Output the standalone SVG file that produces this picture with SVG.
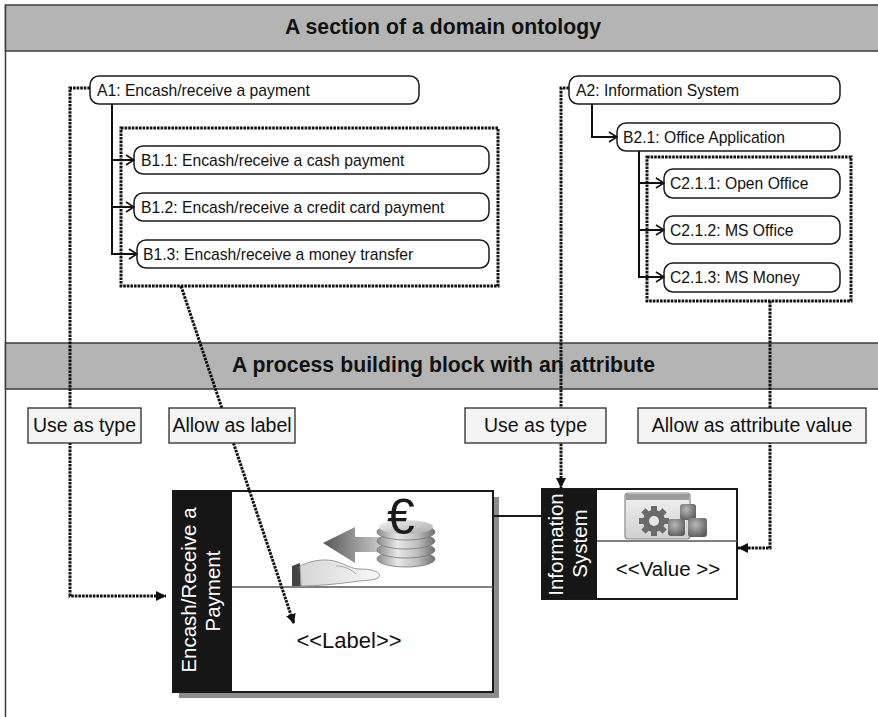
<svg xmlns="http://www.w3.org/2000/svg" width="878" height="717" viewBox="0 0 878 717">
  <defs>
    <style>
      .band { fill: #b3b4b3; stroke: #3c3c3c; stroke-width: 1.5; }
      .title { font-family: "Liberation Sans", Arial, sans-serif; font-weight: bold; font-size: 21.2px; fill: #111; text-anchor: middle; }
      .node rect { fill: #fff; stroke: #1a1a1a; stroke-width: 1.5; }
      .node text { font-family: "Liberation Sans", Arial, sans-serif; font-size: 15.7px; fill: #111; }
      .group { fill: none; stroke: #111; stroke-width: 3; stroke-dasharray: 2.6 1; }
      .tree { fill: none; stroke: #111; stroke-width: 2; marker-end: url(#open); }
      .dots { fill: none; stroke: #111; stroke-width: 3; stroke-dasharray: 2.6 1; }
      .dots.arrow { marker-end: url(#solid); }
      .tag rect { fill: #f4f4f4; stroke: #2a2a2a; stroke-width: 1.3; }
      .tag text { font-family: "Liberation Sans", Arial, sans-serif; font-size: 19.5px; fill: #111; text-anchor: middle; }
      .side { font-family: "Liberation Sans", Arial, sans-serif; font-size: 20.5px; fill: #fff; text-anchor: middle; }
      .slot { font-family: "Liberation Sans", Arial, sans-serif; fill: #111; text-anchor: middle; }
    </style>
    <marker id="open" viewBox="0 0 10 12" refX="9" refY="6" markerWidth="10" markerHeight="12" markerUnits="userSpaceOnUse" orient="auto">
      <path d="M1,1 L9,6 L1,11" fill="none" stroke="#111" stroke-width="1.6"/>
    </marker>
    <marker id="solid" viewBox="0 0 10 10" refX="10" refY="5" markerWidth="10" markerHeight="10" markerUnits="userSpaceOnUse" orient="auto">
      <path d="M0,0 L10,5 L0,10 z" fill="#111"/>
    </marker>
    <linearGradient id="coin" x1="0" y1="0" x2="1" y2="0">
      <stop offset="0" stop-color="#8a8a8a"/>
      <stop offset="0.35" stop-color="#e8e8e8"/>
      <stop offset="0.7" stop-color="#bdbdbd"/>
      <stop offset="1" stop-color="#6e6e6e"/>
    </linearGradient>
    <linearGradient id="coinTop" x1="0" y1="0" x2="1" y2="1">
      <stop offset="0" stop-color="#f4f4f4"/>
      <stop offset="1" stop-color="#a8a8a8"/>
    </linearGradient>
    <linearGradient id="arrowFill" x1="0" y1="0" x2="1" y2="0">
      <stop offset="0" stop-color="#555"/>
      <stop offset="1" stop-color="#c8c8c8"/>
    </linearGradient>
    <linearGradient id="handFill" x1="0" y1="0" x2="1" y2="0">
      <stop offset="0" stop-color="#d6d6d6"/>
      <stop offset="1" stop-color="#f8f8f8"/>
    </linearGradient>
    <linearGradient id="win" x1="0" y1="0" x2="0" y2="1">
      <stop offset="0" stop-color="#f2f2f2"/>
      <stop offset="1" stop-color="#d0d0d0"/>
    </linearGradient>
    <radialGradient id="cube" cx="0.4" cy="0.35" r="0.7">
      <stop offset="0" stop-color="#b8b8b8"/>
      <stop offset="1" stop-color="#5c5c5c"/>
    </radialGradient>
  </defs>

  <rect width="878" height="717" fill="#fff"/>

  <!-- frame and section bands -->
  <line x1="5.5" y1="5" x2="5.5" y2="717" stroke="#3c3c3c" stroke-width="1.5"/>
  <g id="band-ontology">
    <rect class="band" x="5.5" y="5" width="875" height="46"/>
    <text class="title" x="443" y="34" textLength="316">A section of a domain ontology</text>
  </g>
  <g id="band-process">
    <rect class="band" x="5.5" y="343" width="875" height="46"/>
    <text class="title" x="443.5" y="372" textLength="423">A process building block with an attribute</text>
  </g>

  <!-- ontology: payment branch -->
  <g id="A1" class="node">
    <rect x="90" y="76" width="329" height="28" rx="9"/>
    <text x="97" y="96">A1: Encash/receive a payment</text>
  </g>
  <g id="B1-group">
    <rect class="group" x="121" y="128" width="377" height="158"/>
  </g>
  <g id="B1.1" class="node">
    <rect x="134" y="146" width="355" height="28" rx="9"/>
    <text x="141" y="166">B1.1: Encash/receive a cash payment</text>
  </g>
  <g id="B1.2" class="node">
    <rect x="134" y="193" width="355" height="28" rx="9"/>
    <text x="141" y="213">B1.2: Encash/receive a credit card payment</text>
  </g>
  <g id="B1.3" class="node">
    <rect x="137" y="240" width="352" height="28" rx="9"/>
    <text x="143" y="260">B1.3: Encash/receive a money transfer</text>
  </g>

  <!-- ontology: information system branch -->
  <g id="A2" class="node">
    <rect x="569" y="76" width="271" height="28" rx="9"/>
    <text x="576" y="96">A2: Information System</text>
  </g>
  <g id="B2.1" class="node">
    <rect x="617" y="123" width="223" height="28" rx="9"/>
    <text x="623" y="143">B2.1: Office Application</text>
  </g>
  <g id="C2-group">
    <rect class="group" x="647" y="157" width="204" height="144"/>
  </g>
  <g id="C2.1.1" class="node">
    <rect x="664" y="169" width="176" height="29" rx="9"/>
    <text x="670" y="189">C2.1.1: Open Office</text>
  </g>
  <g id="C2.1.2" class="node">
    <rect x="664" y="216" width="176" height="28" rx="9"/>
    <text x="670" y="236">C2.1.2: MS Office</text>
  </g>
  <g id="C2.1.3" class="node">
    <rect x="664" y="263" width="176" height="29" rx="9"/>
    <text x="670" y="283">C2.1.3: MS Money</text>
  </g>

  <!-- process building block: Encash/Receive a Payment -->
  <g id="encash-block">
    <rect x="179" y="497" width="320" height="201" fill="#8c8c8c"/>
    <rect x="173" y="491" width="320" height="201" fill="#fff" stroke="#1a1a1a" stroke-width="2"/>
    <rect x="173" y="491" width="59" height="201" fill="#161616"/>
    <line x1="232" y1="587" x2="493" y2="587" stroke="#555" stroke-width="1.5"/>
    <text class="side" transform="translate(196,590) rotate(-90)">Encash/Receive a</text>
    <text class="side" transform="translate(220,591) rotate(-90)">Payment</text>
    <!-- icon: hand receiving euro coins -->
    <g id="euro-icon">
      <path d="M292,566 L300,563 L301,586 L292,586 Z" fill="#444"/>
      <path d="M300,566 C312,560 326,558 338,562 C346,565 352,569 360,569 C372,569 382,572 379,577 C376,581 362,580 352,582 C336,584 318,586 301,586 Z" fill="url(#handFill)" stroke="#9a9a9a" stroke-width="1"/>
      <path d="M336,566 C345,566 352,570 356,574" fill="none" stroke="#aaa" stroke-width="1"/>
      <path d="M323,543 L355,527 L355,537 L380,537 L380,552 L355,552 L355,563 Z" fill="url(#arrowFill)"/>
      <ellipse cx="406" cy="559" rx="29" ry="8" fill="url(#coin)" stroke="#777" stroke-width="0.8"/>
      <ellipse cx="406" cy="550" rx="29" ry="8" fill="url(#coin)" stroke="#777" stroke-width="0.8"/>
      <ellipse cx="406" cy="541" rx="29" ry="8" fill="url(#coin)" stroke="#777" stroke-width="0.8"/>
      <ellipse cx="406" cy="532" rx="29" ry="8" fill="url(#coin)" stroke="#777" stroke-width="0.8"/>
      <ellipse cx="406" cy="527" rx="27" ry="7" fill="url(#coinTop)"/>
      <text x="401" y="534" font-family="Liberation Sans, Arial, sans-serif" font-size="50" fill="#1a1a1a" text-anchor="middle">€</text>
    </g>
    <text class="slot" x="349" y="648" font-size="22">&lt;&lt;Label&gt;&gt;</text>
  </g>

  <!-- process building block: Information System attribute -->
  <g id="is-block">
    <rect x="542" y="489" width="195" height="110" fill="#fff" stroke="#1a1a1a" stroke-width="2"/>
    <rect x="542" y="489" width="55" height="110" fill="#161616"/>
    <line x1="597" y1="541" x2="737" y2="541" stroke="#555" stroke-width="1.5"/>
    <text class="side" transform="translate(563,544.5) rotate(-90)">Information</text>
    <text class="side" transform="translate(587,543.5) rotate(-90)">System</text>
    <!-- icon: application window with gear and cubes -->
    <g id="app-icon">
      <rect x="625" y="493" width="65" height="46" rx="3" fill="url(#win)" stroke="#8a8a8a" stroke-width="1.2"/>
      <rect x="626" y="494" width="63" height="6" fill="#9c9c9c"/>
      <g transform="translate(654,521)">
        <circle r="11" fill="#6a6a6a"/>
        <g fill="#6a6a6a">
          <rect x="-3" y="-15" width="6" height="6"/>
          <rect x="-3" y="9" width="6" height="6"/>
          <rect x="-15" y="-3" width="6" height="6"/>
          <rect x="9" y="-3" width="6" height="6"/>
          <rect x="-3" y="-15" width="6" height="6" transform="rotate(45)"/>
          <rect x="-3" y="9" width="6" height="6" transform="rotate(45)"/>
          <rect x="-15" y="-3" width="6" height="6" transform="rotate(45)"/>
          <rect x="9" y="-3" width="6" height="6" transform="rotate(45)"/>
        </g>
        <circle r="5" fill="#e6e6e6"/>
      </g>
      <rect x="680" y="504" width="16" height="16" rx="3" fill="url(#cube)"/>
      <rect x="668" y="519" width="17" height="17" rx="3" fill="url(#cube)"/>
      <rect x="688" y="518" width="19" height="19" rx="3" fill="url(#cube)"/>
    </g>
    <text class="slot" x="668" y="576" font-size="20.5">&lt;&lt;Value &gt;&gt;</text>
  </g>

  <!-- connectors -->
  <g id="connectors">
    <!-- ontology hierarchy -->
    <path class="tree" d="M112,104 V160 H134"/>
    <path class="tree" d="M112,160 V207 H134"/>
    <path class="tree" d="M112,207 V254 H137"/>
    <path class="tree" d="M592,104 V137 H617"/>
    <path class="tree" d="M639,151 V183 H664"/>
    <path class="tree" d="M639,183 V230 H664"/>
    <path class="tree" d="M639,230 V277 H664"/>
    <!-- block to attribute -->
    <line x1="493" y1="516" x2="542" y2="516" stroke="#1a1a1a" stroke-width="1.8"/>
    <!-- ontology to process building block -->
    <path class="dots arrow" d="M90,88 H70 V596 H166"/>
    <path class="dots arrow" d="M181,286 L294,624"/>
    <path class="dots arrow" d="M569,88 H561 V488"/>
    <path class="dots arrow" d="M770,301 V548 H738"/>
  </g>

  <!-- connector annotations -->
  <g id="tag-use-type-1" class="tag">
    <rect x="28" y="408" width="113" height="35"/>
    <text x="84.5" y="432">Use as type</text>
  </g>
  <g id="tag-allow-label" class="tag">
    <rect x="169" y="408" width="126" height="35"/>
    <text x="232" y="432">Allow as label</text>
  </g>
  <g id="tag-use-type-2" class="tag">
    <rect x="465" y="408" width="141" height="35"/>
    <text x="535.5" y="432">Use as type</text>
  </g>
  <g id="tag-allow-value" class="tag">
    <rect x="638" y="408" width="228" height="35"/>
    <text x="752" y="432">Allow as attribute value</text>
  </g>
</svg>
